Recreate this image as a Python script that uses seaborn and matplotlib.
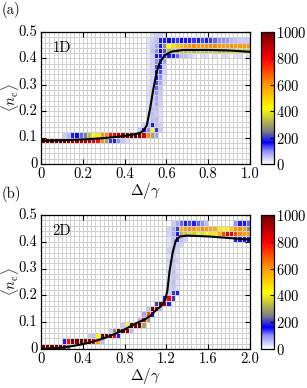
import numpy as np
import matplotlib
matplotlib.use("Agg")
import matplotlib.pyplot as plt
from matplotlib.colors import LinearSegmentedColormap
import seaborn as sns

plt.rcParams["font.family"] = "cmr10"
plt.rcParams["mathtext.fontset"] = "cm"
plt.rcParams["axes.unicode_minus"] = False
plt.rcParams["axes.formatter.use_mathtext"] = True

#Histogram grid: 25 rows of 0.02 in <n_c>, 50 columns in Delta/gamma

n_rows = 25
n_cols = 50
dy = 0.02
dx_1d = 0.02
dx_2d = 0.04

#1D counts, each row: (first column, counts)

a_r04 = (0, [1000, 1000, 1000, 1000, 1000, 980, 960, 940, 930, 920, 900, 880, 820, 780, 600, 300, 200, 150, 100, 50, 30])
a_r05 = (5, [50, 70, 150, 170, 120, 250, 330, 420, 400, 600, 620, 780, 820, 880, 950, 980, 1000, 1000, 1000, 850, 620, 300, 80])
a_r06 = (23, [50, 150, 100, 420, 200, 50])
a_r07 = (24, [40, 60, 150, 60, 40])
a_r08 = (25, [40, 60, 60, 30])
a_r09 = (25, [40, 60, 50, 30])
a_r10 = (25, [30, 60, 60, 30])
a_r11 = (25, [30, 50, 80, 40])
a_r12 = (25, [30, 50, 80, 40])
a_r13 = (25, [30, 50, 100, 50])
a_r14 = (25, [30, 40, 120, 60])
a_r15 = (25, [20, 40, 130, 80, 30])
a_r16 = (25, [20, 40, 150, 100, 30])
a_r17 = (25, [20, 40, 150, 130, 40])
a_r18 = (25, [20, 40, 130, 150, 50])
a_r19 = (25, [20, 40, 100, 150, 80])
a_r20 = (25, [20, 40, 150, 150, 140, 150, 150, 120, 60, 60, 40, 30, 0, 30, 30, 0, 30, 0, 30, 30, 0, 30, 30, 0, 30])
a_r21 = (25, [20, 60, 100, 170, 220, 330, 340, 320, 350, 330, 340, 330, 350, 340, 330, 350, 360, 340, 350, 360, 380, 370, 360, 350, 360])
a_r22 = (25, [30, 50, 80, 150, 280, 420, 480, 520, 540, 580, 600, 610, 600, 590, 600, 610, 620, 600, 590, 600, 610, 600, 590, 600, 600])
a_r23 = (25, [30, 40, 60, 150, 150, 160, 150, 140, 160, 150, 150, 140, 150, 130, 150, 140, 120, 100, 100, 90, 70, 60, 50, 50, 50])
a_r24 = (26, [30, 40, 40, 30])

#2D counts

b_r00 = (0, [1000, 1000, 1000, 1000, 1000, 900, 250])
b_r01 = (5, [150, 800, 1000, 1000, 1000, 1000, 950, 850, 600, 60])
b_r02 = (11, [50, 60, 420, 1000, 1000, 1000, 800, 150])
b_r03 = (16, [50, 280, 1000, 1000, 950, 60])
b_r04 = (19, [50, 420, 1000, 1000, 1000, 300])
b_r05 = (23, [60, 800, 300])
b_r06 = (24, [80, 700, 150])
b_r07 = (25, [60, 1000, 900, 60])
b_r08 = (27, [200, 1000, 900, 150])
b_r09 = (29, [150, 800, 200])
b_r10 = (30, [50, 200, 150])
b_r11 = (30, [40, 50, 30])
b_r12 = (30, [40, 60, 30])
b_r13 = (30, [30, 50, 40])
b_r14 = (30, [40, 60, 30])
b_r15 = (30, [30, 50, 30])
b_r16 = (30, [40, 60, 40])
b_r17 = (30, [30, 50, 30])
b_r18 = (30, [40, 60, 40])
b_r19 = (30, [30, 50, 50, 40])
b_r20 = (30, [30, 60, 150, 60, 40, 0, 0, 0, 0, 0, 0, 0, 0, 0, 0, 0, 150, 150, 180, 150])
b_r21 = (30, [40, 80, 150, 330, 350, 380, 360, 400, 380, 420, 400, 450, 560, 700, 820, 820, 700, 620, 600, 600])
b_r22 = (30, [40, 80, 200, 560, 600, 620, 600, 580, 620, 600, 580, 560, 450, 420, 430, 520, 600, 620, 580, 260])
b_r23 = (31, [50, 80, 120, 150, 130, 150, 120, 100, 60, 0, 0, 0, 0, 0, 0, 100, 150, 150, 120])

#Mean-field curves

a_line_x = [0, 0.1, 0.2, 0.3, 0.4, 0.45, 0.474, 0.49, 0.506, 0.522, 0.538, 0.554, 0.57, 0.594, 0.626, 0.68, 0.8, 0.9, 1.0]
a_line_y = [0.088, 0.09, 0.093, 0.098, 0.106, 0.113, 0.118, 0.126, 0.146, 0.21, 0.286, 0.35, 0.388, 0.413, 0.426, 0.432, 0.432, 0.43, 0.425]

b_line_x = [0, 0.1, 0.2, 0.3, 0.4, 0.5, 0.6, 0.7, 0.8, 0.9, 1.0, 1.05, 1.1, 1.15, 1.19, 1.21, 1.23, 1.26, 1.29, 1.33, 1.4, 1.6, 1.8, 2.0]
b_line_y = [0.0, 0.002, 0.005, 0.011, 0.018, 0.028, 0.04, 0.055, 0.073, 0.094, 0.112, 0.125, 0.145, 0.16, 0.185, 0.22, 0.29, 0.36, 0.405, 0.42, 0.423, 0.42, 0.414, 0.408]

#Ticks

a_xticks = [0, 0.2, 0.4, 0.6, 0.8, 1.0]
a_xlabels = ["0", "0.2", "0.4", "0.6", "0.8", "1.0"]
b_xticks = [0, 0.4, 0.8, 1.2, 1.6, 2.0]
b_xlabels = ["0", "0.4", "0.8", "1.2", "1.6", "2.0"]
yticks = [0, 0.1, 0.2, 0.3, 0.4, 0.5]
ylabels = ["0", "0.1", "0.2", "0.3", "0.4", "0.5"]
cbar_ticks = [0, 200, 400, 600, 800, 1000]

rows_1d = {4: a_r04, 5: a_r05, 6: a_r06, 7: a_r07, 8: a_r08, 9: a_r09, 10: a_r10,
           11: a_r11, 12: a_r12, 13: a_r13, 14: a_r14, 15: a_r15, 16: a_r16,
           17: a_r17, 18: a_r18, 19: a_r19, 20: a_r20, 21: a_r21, 22: a_r22,
           23: a_r23, 24: a_r24}
rows_2d = {0: b_r00, 1: b_r01, 2: b_r02, 3: b_r03, 4: b_r04, 5: b_r05, 6: b_r06,
           7: b_r07, 8: b_r08, 9: b_r09, 10: b_r10, 11: b_r11, 12: b_r12,
           13: b_r13, 14: b_r14, 15: b_r15, 16: b_r16, 17: b_r17, 18: b_r18,
           19: b_r19, 20: b_r20, 21: b_r21, 22: b_r22, 23: b_r23}


def build(rows):
    m = np.zeros((n_rows, n_cols))
    for r, (start, vals) in rows.items():
        m[r, start:start + len(vals)] = vals
    return m


cmap = LinearSegmentedColormap.from_list(
    "hist",
    [
        (0.0, (1, 1, 1)),
        (0.1, (0.55, 0.55, 1.0)),
        (0.16, (0, 0, 1)),
        (0.25, (0.5, 0.5, 0.52)),
        (0.42, (1, 1, 0)),
        (0.6, (1, 0.6, 0)),
        (0.8, (1, 0, 0)),
        (1.0, (0.45, 0, 0)),
    ]
)

fig = plt.figure(figsize=(3.07, 3.88), dpi=100)
W, H = 307, 388
ax_a = fig.add_axes([41 / W, 1 - 164 / H, 209 / W, 132 / H])
cax_a = fig.add_axes([261 / W, 1 - 164 / H, 13 / W, 132 / H])
ax_b = fig.add_axes([41 / W, 1 - 349 / H, 209 / W, 134 / H])
cax_b = fig.add_axes([261 / W, 1 - 349 / H, 13 / W, 134 / H])

panels = [
    (ax_a, cax_a, rows_1d, dx_1d, a_line_x, a_line_y, a_xticks, a_xlabels, "1D"),
    (ax_b, cax_b, rows_2d, dx_2d, b_line_x, b_line_y, b_xticks, b_xlabels, "2D"),
]

fs = 10.5
for ax, cax, rows, dx, lx, ly, xt, xl, tag in panels:
    sns.heatmap(
        build(rows),
        ax=ax,
        cbar_ax=cax,
        cmap=cmap,
        vmin=0,
        vmax=1000,
        linewidths=0.5,
        linecolor="#d0d0d0",
    )
    ax.invert_yaxis()
    sns.lineplot(
        x=np.array(lx) / dx,
        y=np.array(ly) / dy,
        ax=ax,
        color="black",
        linewidth=1.5,
    )
    ax.set_xlim(0, n_cols)
    ax.set_ylim(0, n_rows)
    ax.set_xticks(np.array(xt) / dx)
    ax.set_xticklabels(xl, rotation=0, fontsize=fs)
    ax.set_yticks(np.array(yticks) / dy)
    ax.set_yticklabels(ylabels, rotation=0, fontsize=fs)
    ax.tick_params(direction="in", top=True, right=True, length=3.5,
                   width=0.8, pad=2.5)
    for sp in ax.spines.values():
        sp.set_visible(True)
        sp.set_color("black")
        sp.set_linewidth(0.9)
    ax.set_xlabel(r"$\Delta/\gamma$", fontsize=fs + 0.5)
    ax.set_ylabel(r"$\langle n_{\rm c}\rangle$", fontsize=fs)
    ax.xaxis.set_label_coords(0.5, -0.13)
    ax.yaxis.set_label_coords(-0.095, 0.5)
    ax.text(0.055, 0.93, tag, transform=ax.transAxes, ha="left", va="top",
            fontsize=fs)

    cbar = ax.collections[0].colorbar
    cbar.set_ticks(cbar_ticks)
    cbar.ax.tick_params(direction="in", length=3, width=0.8, pad=1.5,
                        labelsize=fs)
    cbar.outline.set_linewidth(0.9)
    cbar.outline.set_edgecolor("black")

fig.text(0.005, 0.995, "(a)", ha="left", va="top", fontsize=fs)
fig.text(0.005, 1 - 186 / H, "(b)", ha="left", va="top", fontsize=fs)

fig.savefig("out.png", dpi=100)
